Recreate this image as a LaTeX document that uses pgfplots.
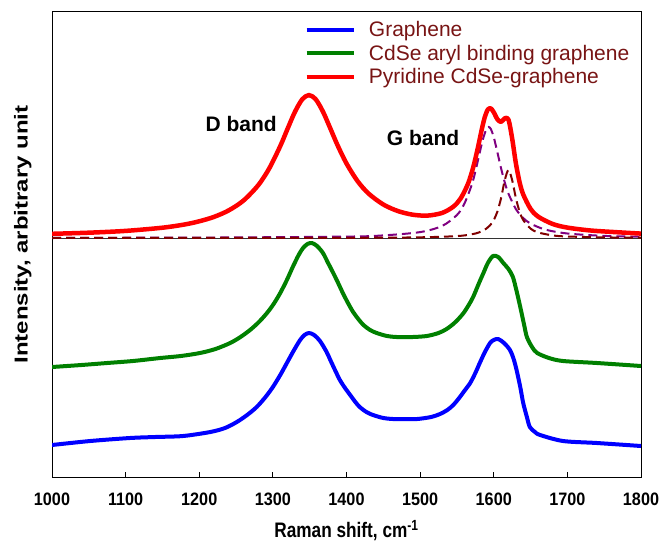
\documentclass[border=0pt]{standalone}
\usepackage{graphicx}
\usepackage{fontspec}
\setmainfont{Liberation Sans}
\usepackage{pgfplots}
\pgfplotsset{compat=1.18}

\definecolor{specblue}{RGB}{0,0,255}
\definecolor{specgreen}{RGB}{0,128,0}
\definecolor{specred}{RGB}{255,0,0}
\definecolor{dashpurple}{RGB}{128,0,128}
\definecolor{dashmaroon}{RGB}{128,0,0}
\definecolor{legtext}{RGB}{120,20,20}

\begin{document}
\begin{tikzpicture}
\begin{axis}[
    scale only axis,
    width=589bp, height=465bp,
    xmin=1000, xmax=1800,
    ymin=0, ymax=465,
    xtick={1000,1100,...,1800},
    ytick=\empty,
    xtick pos=bottom,
    tick align=inside,
    major tick length=5bp,
    tick style={black, line width=1bp},
    axis line style={line width=1bp},
    /pgf/number format/assume math mode=true,
    /pgf/number format/set thousands separator={},
    xticklabel={\scalebox{0.9}[1]{\textbf{\pgfmathprintnumber{\tick}}}},
    xticklabel style={font=\fontsize{18bp}{21bp}\selectfont, yshift=-12bp},
    xlabel={\scalebox{0.82}[1]{\textbf{Raman shift, cm\textsuperscript{-1}}}},
    xlabel style={font=\fontsize{21bp}{24bp}\selectfont, yshift=-8bp},
    ylabel={\scalebox{1}[0.78]{\textbf{Intensity, arbitrary unit}}},
    ylabel style={font=\fontsize{24bp}{28bp}\selectfont, yshift=17bp, xshift=10bp},
    legend style={at={(axis cs:1343,458)}, anchor=north west, draw=none, fill=none,
        font=\fontsize{21bp}{25bp}\selectfont, text=legtext,
        inner sep=0pt, row sep=3bp},
    legend cell align=left,
    legend image code/.code={\draw[#1, line width=4bp] (0bp,0bp) -- (47bp,0bp);
        \path (58bp,0bp);},
]
% baseline of the top spectrum
\addplot[forget plot, black!80, line width=0.8bp] coordinates {(1000,239) (1800,239)};

% fitted G-band components
\addplot[forget plot, dashpurple, line width=2bp, dash pattern=on 9bp off 5bp, smooth] coordinates {
(1000,239.2) (1200,239.4) (1400,240.4) (1450,241.6) (1500,244.9) (1530,251.1)
(1550,262.0) (1560,273.2) (1570,292.0) (1575,305.5) (1580,321.3) (1585,337.0)
(1590,348.0) (1593,350.0) (1596,348.0) (1600,339.8) (1605,324.5) (1610,308.5)
(1615,294.5) (1620,283.3) (1630,268.0) (1640,259.0) (1650,253.4) (1670,247.4)
(1700,243.5) (1750,241.1) (1800,240.2)
};
\addplot[forget plot, dashmaroon, line width=2bp, dash pattern=on 9bp off 5bp, smooth] coordinates {
(1000,239.0) (1400,239.2) (1500,239.7) (1550,240.9) (1570,242.7) (1580,244.6)
(1590,248.4) (1595,251.7) (1600,257.0) (1605,265.5) (1610,279.1) (1615,296.9)
(1620,307.0) (1625,296.9) (1630,279.1) (1635,265.5) (1640,257.0) (1650,248.4)
(1660,244.6) (1680,241.6) (1700,240.5) (1750,239.6) (1800,239.3)
};

% Graphene
\addplot[specblue, line width=4bp, smooth, line join=round] coordinates {
(1000,32) (1052,36) (1106,39) (1140,40) (1178,41) (1215,45) (1235,49) (1251,55)
(1265,62) (1278,70) (1290,80) (1300,90) (1310,102) (1319,114) (1328,126) (1337,137)
(1343,142) (1349,144) (1356,142) (1364,136) (1373,125) (1378,117) (1385,106) (1391,97)
(1398,89) (1405,82) (1412,75) (1418,70) (1427,65) (1436,62) (1450,59) (1463,58)
(1480,58) (1496,58) (1515,60) (1527,63) (1537,67) (1545,72) (1553,79) (1560,86)
(1568,94) (1575,104) (1581,114) (1588,125) (1595,134) (1600,137) (1606,138) (1614,134)
(1622,127) (1627,118) (1631,107) (1636,90) (1640,74) (1645,60) (1649,50) (1656,45)
(1663,42) (1694,36) (1740,34) (1800,31)
};
\addlegendentry{Graphene}

% CdSe aryl binding graphene
\addplot[specgreen, line width=4bp, smooth, line join=round] coordinates {
(1000,110) (1040,112) (1075,114) (1110,116) (1147,119) (1175,121) (1201,124) (1222,128)
(1242,134) (1256,140) (1269,147) (1281,155) (1292,164) (1301,173) (1310,184) (1319,197)
(1327,210) (1335,222) (1341,229) (1347,233) (1353,234) (1360,231) (1368,224) (1375,214)
(1382,204) (1388,195) (1395,184) (1402,174) (1409,165) (1416,158) (1423,152) (1432,147)
(1441,144) (1455,141) (1468,140) (1490,140) (1509,141) (1525,144) (1536,148) (1545,153)
(1552,158) (1559,164) (1566,172) (1572,180) (1580,194) (1586,204) (1592,214) (1599,221)
(1606,220) (1613,214) (1620,208) (1626,200) (1631,186) (1636,170) (1641,153) (1645,140)
(1652,130) (1659,124) (1675,119) (1694,116) (1740,114) (1800,111)
};
\addlegendentry{CdSe aryl binding graphene}

% Pyridine CdSe-graphene
\addplot[specred, line width=4.5bp, smooth, line join=round] coordinates {
(1000,243.2) (1050,244.3) (1100,246.1) (1150,249.3) (1180,252.5) (1200,255.7)
(1220,260.1) (1240,266.6) (1260,276.4) (1280,291.7) (1295,308.5) (1310,330.9)
(1320,348.3) (1330,365.2) (1340,377.8) (1349,381.9) (1358,377.9) (1368,365.4)
(1378,348.6) (1388,331.5) (1400,313.5) (1415,295.9) (1430,283.4) (1450,272.5)
(1470,265.9) (1490,262.3) (1510,261.4) (1530,264.1) (1545,270.3) (1555,278.5)
(1565,293.2) (1572,309.4) (1578,327.8) (1584,348.5) (1588,360.3) (1592,367.5)
(1596,368.6) (1600,364.7) (1605,357.7) (1610,355.1) (1615,358.7) (1620,357.4)
(1625,338.5) (1630,313.9) (1635,295.1) (1640,282.6) (1650,268.1) (1660,260.5)
(1680,253.0) (1700,249.4) (1730,246.6) (1760,245.1) (1800,243.4)
};
\addlegendentry{Pyridine CdSe-graphene}

\node[font=\fontsize{21bp}{25bp}\selectfont\bfseries] at (axis cs:1257,353) {D band};
\node[font=\fontsize{21bp}{25bp}\selectfont\bfseries] at (axis cs:1504,339) {G band};
\end{axis}
\pgfresetboundingbox
\path[use as bounding box] ([xshift=-52bp,yshift=-67bp]current axis.south west)
    rectangle ([xshift=26bp,yshift=12bp]current axis.north east);
\end{tikzpicture}
\end{document}
